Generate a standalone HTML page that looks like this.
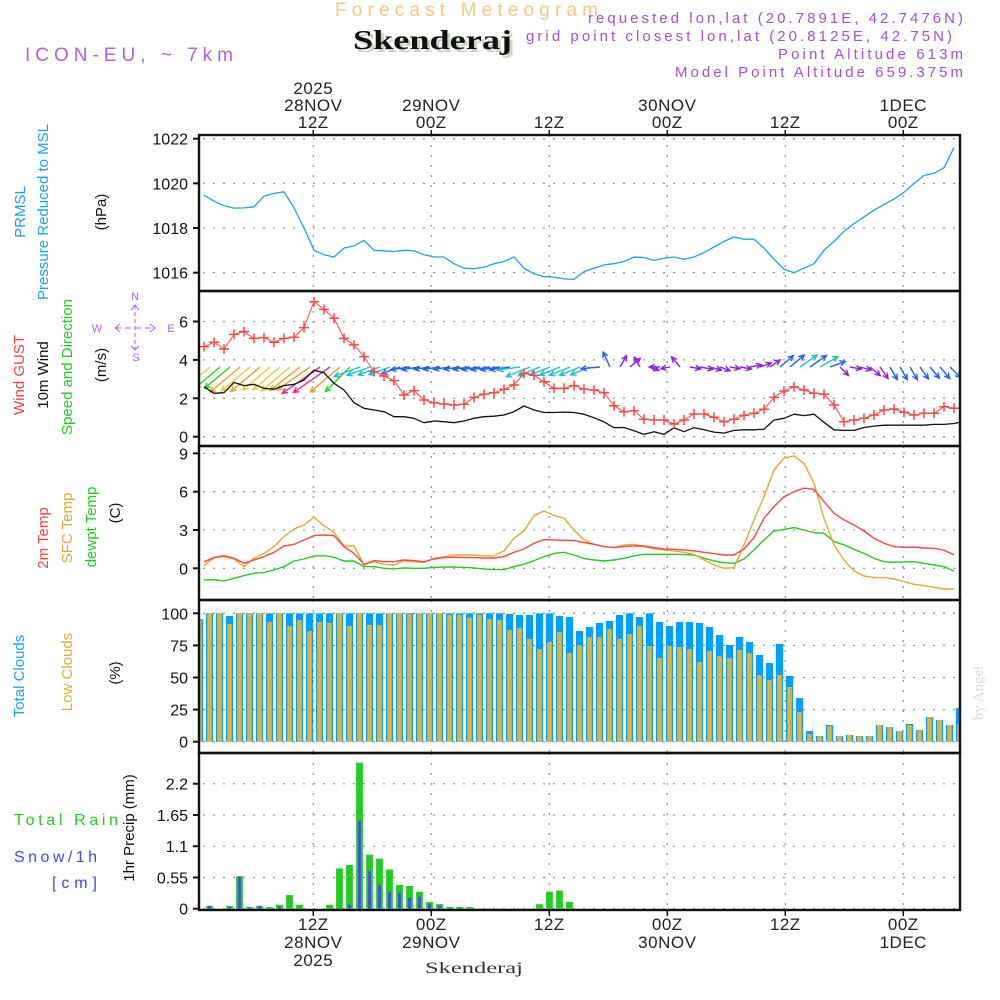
<!DOCTYPE html>
<html><head><meta charset="utf-8"><style>
html,body{margin:0;padding:0;background:#fff;}
svg{display:block;font-family:"Liberation Sans",sans-serif;}
</style></head><body>
<svg id="chart" width="1000" height="1000" viewBox="0 0 1000 1000" xmlns="http://www.w3.org/2000/svg">
<defs><clipPath id="plotClip"><rect x="200" y="136" width="759" height="773"/></clipPath></defs>
<rect x="0" y="0" width="1000" height="1000" fill="#fff"/>
<text x="335" y="16" font-size="19" fill="#f5c880" textLength="263" lengthAdjust="spacing">Forecast Meteogram</text>
<text x="356" y="52" font-family="Liberation Serif, serif" font-weight="bold" font-size="27" fill="#c8d8c0" textLength="159" lengthAdjust="spacingAndGlyphs">Skenderaj</text>
<text x="353" y="49" font-family="Liberation Serif, serif" font-weight="bold" font-size="27" fill="#111" textLength="159" lengthAdjust="spacingAndGlyphs">Skenderaj</text>
<text x="25" y="61" font-size="19" fill="#b060e8" textLength="208" lengthAdjust="spacing">ICON-EU, ~ 7km</text>
<g fill="#a050e0" font-size="15" text-anchor="end">
<text x="963" y="23" textLength="375" lengthAdjust="spacing">requested lon,lat (20.7891E, 42.7476N)</text>
<text x="952" y="41" textLength="426" lengthAdjust="spacing">grid point closest lon,lat (20.8125E, 42.75N)</text>
<text x="963" y="59" textLength="185" lengthAdjust="spacing">Point Altitude 613m</text>
<text x="963" y="77" textLength="288" lengthAdjust="spacing">Model Point Altitude 659.375m</text>
</g>
<g font-size="15" text-anchor="middle">
<text transform="translate(25,212) rotate(-90)" fill="#1aa0ff">PRMSL</text>
<text transform="translate(48,212) rotate(-90)" fill="#1aa0ff">Pressure Reduced to MSL</text>
<text transform="translate(106,212) rotate(-90)" fill="#111">(hPa)</text>
<text transform="translate(24,375) rotate(-90)" fill="#ff4040">Wind GUST</text>
<text transform="translate(48,375) rotate(-90)" fill="#111">10m Wind</text>
<text transform="translate(72,367) rotate(-90)" fill="#22cc22">Speed and Direction</text>
<text transform="translate(106,365) rotate(-90)" fill="#111">(m/s)</text>
<text transform="translate(48,538) rotate(-90)" fill="#ff4040">2m Temp</text>
<text transform="translate(72,528) rotate(-90)" fill="#e8a830">SFC Temp</text>
<text transform="translate(96,527) rotate(-90)" fill="#22cc22">dewpt Temp</text>
<text transform="translate(120,513) rotate(-90)" fill="#111">(C)</text>
<text transform="translate(24,676) rotate(-90)" fill="#1aa0ff">Total Clouds</text>
<text transform="translate(72,672) rotate(-90)" fill="#e8a830">Low Clouds</text>
<text transform="translate(120,673) rotate(-90)" fill="#111">(%)</text>
<text transform="translate(134,828) rotate(-90)" fill="#111">1hr Precip (mm)</text>
</g>
<g font-size="16" text-anchor="start">
<text x="14" y="825" fill="#22cc22" textLength="104" lengthAdjust="spacing">Total  Rain</text>
<text x="14" y="862" fill="#4444ff" textLength="83" lengthAdjust="spacing">Snow/1h</text>
<text x="52" y="888" fill="#4444ff" textLength="45" lengthAdjust="spacing">[cm]</text>
</g>
<g stroke="#b060e8" fill="none" stroke-width="1">
<line x1="115" y1="328" x2="155" y2="328" stroke-dasharray="6 4"/>
<line x1="135" y1="305" x2="135" y2="350" stroke-dasharray="4 3"/>
<polyline points="120,324 115,328 120,332"/><polyline points="150,324 155,328 150,332"/>
<polyline points="131,310 135,305 139,310"/><polyline points="131,346 135,350 139,346"/>
</g>
<g fill="#b060e8" font-size="11" text-anchor="middle">
<text x="135" y="300">N</text>
<text x="136" y="361">S</text>
<text x="97" y="332">W</text>
<text x="171" y="332">E</text>
</g>
<text transform="translate(983,693) rotate(-90)" text-anchor="middle" font-family="Liberation Serif, serif" font-size="15" fill="#d8ddd8">by Angel</text>
<text x="425" y="973" font-family="Liberation Serif, serif" font-size="16" fill="#333" textLength="98" lengthAdjust="spacingAndGlyphs">Skenderaj</text>
<g id="grid"></g>
<g id="marks" clip-path="url(#plotClip)"></g>
<g id="frames"></g>
<g id="labels"></g>
</svg>
<script>
// ---- data ----
const tickHours = [12, 24, 36, 48, 60, 72];
const topTickLabels = [["2025","28NOV","12Z"],["29NOV","00Z"],["12Z"],["30NOV","00Z"],["12Z"],["1DEC","00Z"]];
const bottomTickLabels = [["12Z","28NOV","2025"],["00Z","29NOV"],["12Z"],["00Z","30NOV"],["12Z"],["00Z","1DEC"]];
const pressureTicks = [1016, 1018, 1020, 1022];
const windTicks = [0, 2, 4, 6];
const tempTicks = [0, 3, 6, 9];
const cloudTicks = [0, 25, 50, 75, 100];
const precipTicks = [0, 0.55, 1.1, 1.65, 2.2];
const precipTickLabels = ["0", "0.55", "1.1", "1.65", "2.2"];
const pressure = [1019.47,1019.2,1019.0,1018.89,1018.9,1018.95,1019.43,1019.55,1019.62,1018.9,1018.0,1017.0,1016.8,1016.7,1017.1,1017.2,1017.45,1017.0,1016.98,1016.95,1017.0,1016.98,1016.8,1016.7,1016.7,1016.4,1016.2,1016.18,1016.25,1016.4,1016.5,1016.7,1016.2,1015.95,1015.82,1015.8,1015.72,1015.7,1016.05,1016.2,1016.35,1016.4,1016.5,1016.7,1016.68,1016.55,1016.65,1016.7,1016.6,1016.7,1016.9,1017.15,1017.4,1017.6,1017.5,1017.5,1017.1,1016.6,1016.15,1016.0,1016.2,1016.4,1017.0,1017.4,1017.85,1018.2,1018.5,1018.8,1019.05,1019.3,1019.6,1020.0,1020.35,1020.45,1020.7,1021.6];
const windGust = [4.69,4.92,4.57,5.33,5.47,5.12,5.16,4.92,5.12,5.18,5.68,7.03,6.63,6.17,5.12,4.78,4.17,3.39,3.16,2.92,2.17,2.4,1.91,1.77,1.7,1.65,1.69,2.05,2.21,2.29,2.47,2.69,3.3,3.2,2.86,2.52,2.52,2.66,2.48,2.43,2.29,1.61,1.3,1.35,0.91,0.87,0.87,0.66,0.87,1.18,1.18,1.01,0.78,0.91,1.11,1.22,1.43,2.05,2.38,2.6,2.43,2.26,2.22,1.65,0.78,0.87,0.96,1.13,1.39,1.44,1.27,1.13,1.22,1.22,1.56,1.48];
const wind10m = [2.6,2.26,2.29,2.83,2.66,2.73,2.52,2.48,2.66,2.73,2.95,3.47,3.33,2.78,2.43,1.77,1.48,1.39,1.3,1.04,1.04,0.96,0.73,0.82,0.78,0.73,0.82,0.96,1.04,1.07,1.13,1.3,1.6,1.39,1.26,1.26,1.28,1.26,1.17,0.99,0.77,0.47,0.48,0.31,0.12,0.26,0.12,0.47,0.26,0.47,0.36,0.24,0.19,0.33,0.36,0.36,0.39,0.87,0.96,1.17,1.1,1.17,0.75,0.36,0.33,0.33,0.48,0.55,0.6,0.6,0.6,0.6,0.6,0.64,0.64,0.69,0.8];
const windDirection = [140,140,140,140,140,140,140,140,140,142,145,145,145,140,135,160,160,160,160,160,172,172,172,172,172,172,172,172,172,172,172,172,158,158,158,158,158,158,158,175,-115,-60,-40,-120,20,180,170,-130,10,10,15,20,10,10,-10,-20,-35,-40,-40,-35,-35,-30,-20,45,10,15,40,55,60,60,60,55,50,50,45,65,70];
const temp2m = [0.52,0.84,0.99,0.78,0.39,0.65,0.91,1.25,1.75,1.88,2.22,2.56,2.61,2.56,1.70,1.17,0.31,0.60,0.52,0.52,0.65,0.6,0.52,0.73,0.84,0.86,0.84,0.84,0.81,0.81,0.91,1.25,1.51,1.96,2.25,2.22,2.19,2.17,2.01,1.88,1.7,1.62,1.7,1.75,1.75,1.62,1.51,1.49,1.44,1.36,1.25,1.15,1.04,1.04,1.51,2.4,3.92,4.83,5.61,6.0,6.27,6.19,5.22,4.31,3.79,3.39,2.92,2.35,1.96,1.7,1.64,1.67,1.59,1.57,1.41,1.04];
const tempSfc = [0.21,0.84,0.91,0.73,0.13,0.78,1.17,1.70,2.48,3.08,3.39,3.99,3.32,2.82,1.75,1.75,0.26,0.52,0.31,0.26,0.57,0.52,0.47,0.78,0.91,1.04,1.04,1.04,0.97,0.97,1.36,2.35,2.92,4.13,4.49,4.13,3.92,3.0,2.22,1.88,1.7,1.62,1.83,1.88,1.7,1.51,1.44,1.36,1.25,1.1,0.65,0.26,0,0.05,1.83,3.79,5.61,7.7,8.62,8.8,8.22,6.66,3.92,1.83,0.65,-0.21,-0.6,-0.73,-0.73,-0.84,-1.04,-1.25,-1.36,-1.49,-1.62,-1.62];
const tempDew = [-0.91,-0.89,-0.99,-0.78,-0.57,-0.39,-0.34,-0.13,0.13,0.57,0.73,0.97,0.99,0.86,0.57,0.57,0.13,0.13,0,-0.05,0.03,0,0,0.08,0.1,0.1,0.08,0.03,-0.05,-0.1,-0.1,0.13,0.31,0.6,0.91,1.17,1.25,1.04,0.76,0.65,0.57,0.65,0.78,0.97,1.1,1.1,1.1,1.1,1.07,1.04,0.78,0.57,0.44,0.39,0.73,1.44,2.22,2.92,3.05,3.19,3.0,2.79,2.74,2.09,1.83,1.49,1.17,0.78,0.52,0.47,0.5,0.52,0.39,0.26,0.13,-0.21];
const totalClouds = [95.3,100,100,97.9,100,100,100,100,100,100,100,100,100,100,100,100,100,100,100,100,100,100,100,100,100,100,100,100,100,100,100,99.5,98.7,98.7,100,100,97.9,97.1,86.2,89.4,92.5,94,98.7,100,97.1,100,93.2,90.1,93.2,93.2,92.5,89.4,83.1,75.3,81.6,77.7,67.5,61.3,76.1,51.2,34,8.3,4.4,13,4.4,5.2,4.4,4.4,13,11.4,8.3,13.8,9.1,19.2,16.9,13,26.2];
const lowClouds = [94.3,100,100,91.7,100,100,100,93.2,100,90.1,94.8,86.2,93.2,92.5,100,90.1,100,90.9,90.9,100,100,99.2,100,100,100,98.7,98.7,96.6,98.7,95.6,94.8,87,88.6,80,72.2,77.7,85.5,69.1,75.3,81.6,81.6,87.8,80,83.9,90.1,74.5,65.2,74.5,73.8,72.2,62.1,70.6,66.8,65.2,71.4,69.1,51.9,48.1,51.9,42.6,23.1,6,4.4,12.2,4.4,5.2,4.4,4.4,13,11.4,8.3,13,9.1,19.2,16.9,13,13.8];
const totalRain = [0,0.05,0,0.05,0.57,0.03,0.05,0.03,0.07,0.24,0.07,0,0,0.07,0.71,0.77,2.57,0.95,0.88,0.69,0.42,0.4,0.3,0.12,0.08,0.03,0.03,0.03,0.005,0.005,0.005,0.005,0.005,0.005,0.08,0.3,0.32,0.12,0,0,0,0,0,0,0,0,0,0,0,0,0,0,0,0,0,0,0,0,0,0,0,0,0,0,0,0,0,0,0,0,0,0,0,0,0,0,0];
const snow = [0,0.05,0,0.03,0.57,0.02,0.05,0,0.03,0,0,0,0,0,0.01,0.07,1.54,0.66,0.42,0.3,0.28,0.19,0.21,0.08,0.05,0.01,0.01,0,0,0,0,0,0,0,0,0,0,0,0,0,0,0,0,0,0,0,0,0,0,0,0,0,0,0,0,0,0,0,0,0,0,0,0,0,0,0,0,0,0,0,0,0,0,0,0,0,0];

// ---- scales ----
const NS = 'http://www.w3.org/2000/svg';
const xTime = h => 195.3 + h * 9.833;
const xLine = i => 204 + i * 10;
const xBar = k => 199.5 + k * 10;
const yP = p => 138.7 + (1022 - p) * 22.33;
const yW = v => 436.7 - v * 19.2;
const yT = t => 568.3 - t * 12.77;
const yC = c => 741.7 - c * 1.284;
const yR = r => 908.7 - r * 56.8;
const L = 199, R = 960;
const panels = [[135,291],[291,446],[446,600],[600,753],[753,910]];
function mk(tag, attrs, parent) {
  const el = document.createElementNS(NS, tag);
  for (const k in attrs) el.setAttribute(k, attrs[k]);
  parent.appendChild(el);
  return el;
}
const grid = document.getElementById('grid');
const marks = document.getElementById('marks');
const frames = document.getElementById('frames');
const labels = document.getElementById('labels');

panels.forEach(([t, b]) => {
  tickHours.forEach(h => {
    const el = mk('line', {x1: xTime(h), x2: xTime(h), y1: t, y2: b, stroke: '#999', 'stroke-width': 1.3, 'stroke-dasharray': '2 8'}, grid);
    
    
  });
});
function yAxis(ticks, texts, yf) {
  ticks.forEach((v, j) => {
    const y = yf(v);
    const g = mk('line', {x1: L + 4, x2: R, y1: y, y2: y, stroke: '#999', 'stroke-width': 1.3, 'stroke-dasharray': '2 8'}, grid);
    
    
    const tk = mk('line', {x1: L - 6, x2: L, y1: y, y2: y, stroke: '#111', 'stroke-width': 2}, frames);
    
    
    const tx = mk('text', {x: 188, y: y + 6, 'text-anchor': 'end', 'font-size': 16, fill: '#111'}, labels);
    
    
    tx.textContent = texts[j];
  });
}
yAxis(pressureTicks, pressureTicks.map(String), yP);
yAxis(windTicks, windTicks.map(String), yW);
yAxis(tempTicks, tempTicks.map(String), yT);
yAxis(cloudTicks, cloudTicks.map(String), yC);
yAxis(precipTicks, precipTickLabels, yR);

tickHours.forEach((h, j) => {
  const x = xTime(h);
  const tl = topTickLabels[j];
  tl.forEach((s, r) => {
    const t = mk('text', {x: x, y: 128 - (tl.length - 1 - r) * 17, 'text-anchor': 'middle', 'font-size': 17, fill: '#222', 'letter-spacing': 0.5}, labels);
    
    
    t.textContent = s;
  });
  bottomTickLabels[j].forEach((s, r) => {
    const t = mk('text', {x: x, y: 930 + r * 18, 'text-anchor': 'middle', 'font-size': 17, fill: '#222', 'letter-spacing': 0.5}, labels);
    
    
    t.textContent = s;
  });
  const tt = mk('line', {x1: x, x2: x, y1: 130, y2: 135, stroke: '#111', 'stroke-width': 1.5}, frames);
  
  
  const bt = mk('line', {x1: x, x2: x, y1: 910, y2: 916, stroke: '#111', 'stroke-width': 1.5}, frames);
  
  
});

function line(vals, yf, color, w, name) {
  const pts = vals.map((v, i) => xLine(i).toFixed(1) + ',' + yf(v).toFixed(1)).join(' ');
  const el = mk('polyline', {points: pts, fill: 'none', stroke: color, 'stroke-width': w, 'stroke-linejoin': 'round'}, marks);
  
  
  return el;
}
line(pressure, yP, '#1aa0ff', 1.3, 'pressure-line');

function windColor(v) {
  if (v < 0.56) return '#9020e0';
  if (v < 1.15) return '#2060ff';
  if (v < 1.8) return '#20c0d0';
  if (v < 2.45) return '#30d020';
  if (v < 2.7) return '#e8d030';
  if (v < 3.1) return '#e8a030';
  return '#ff2090';
}
wind10m.forEach((v, i) => {
  const a = windDirection[i] * Math.PI / 180;
  const len = 8 + 11 * v;
  const x1 = xLine(i) + 6, y1 = 367;
  const x2 = x1 + Math.cos(a) * len, y2 = y1 + Math.sin(a) * len;
  const h1 = a + Math.PI - 0.45, h2 = a + Math.PI + 0.45;
  const d = `M${x1},${y1}L${x2},${y2}M${x2 + Math.cos(h1) * 6},${y2 + Math.sin(h1) * 6}L${x2},${y2}L${x2 + Math.cos(h2) * 6},${y2 + Math.sin(h2) * 6}`;
  const el = mk('path', {d: d, fill: 'none', stroke: windColor(v), 'stroke-width': 1.4}, marks);
  
  
});
line(wind10m, yW, '#111', 1.3, 'wind-10m-line');
line(windGust, yW, '#ff4545', 1, 'wind-gust-line');
windGust.forEach((v, i) => {
  const x = xLine(i), y = yW(v);
  const el = mk('path', {d: `M${x - 5},${y}H${x + 5}M${x},${y - 5}V${y + 5}`, stroke: '#ff4545', 'stroke-width': 1.5, fill: 'none'}, marks);
  
  
});

line(tempDew, yT, '#22cc22', 1.4, 'dewpoint-line');
line(tempSfc, yT, '#e8a830', 1.4, 'sfc-temp-line');
line(temp2m, yT, '#ff4545', 1.4, 'temp-2m-line');

totalClouds.forEach((v, k) => {
  const x = xBar(k);
  const el = mk('rect', {x: x - 3.6, y: yC(v), width: 7.2, height: yC(0) - yC(v), fill: '#00a0ff'}, marks);
  
  
  const lv = lowClouds[k];
  const el2 = mk('rect', {x: x - 2.3, y: yC(lv), width: 4.6, height: yC(0) - yC(lv), fill: '#e8b030'}, marks);
  
  
});

totalRain.forEach((v, k) => {
  if (v <= 0) return;
  const x = xBar(k);
  const el = mk('rect', {x: x - 3.4, y: yR(v), width: 6.8, height: yR(0) - yR(v), fill: '#22cc22'}, marks);
  
  
  const s = snow[k];
  if (s > 0) {
    const el2 = mk('rect', {x: x - 1.3, y: yR(s), width: 2.6, height: yR(0) - yR(s), fill: '#4444ff'}, marks);
    
    
  }
});

panels.forEach(([t, b]) => {
  const el = mk('rect', {x: L, y: t, width: R - L, height: b - t, fill: 'none', stroke: '#111', 'stroke-width': 2.4}, frames);
  
  
});
</script>
</body></html>
